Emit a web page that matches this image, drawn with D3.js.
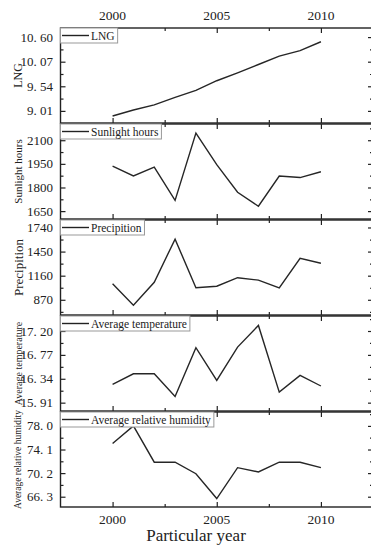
<!DOCTYPE html>
<html>
<head>
<meta charset="utf-8">
<script src="https://cdn.jsdelivr.net/npm/d3@7"></script>
<style>
  body { margin: 0; background: #fff; }
  svg text { font-family: "Liberation Serif", "DejaVu Serif", serif; fill: #222; }
</style>
</head>
<body>
<div id="chart"></div>
<script>

// data
var years = [2000, 2001, 2002, 2003, 2004, 2005, 2006, 2007, 2008, 2009, 2010];
var lng = [8.90, 9.03, 9.14, 9.30, 9.45, 9.66, 9.83, 10.01, 10.19, 10.31, 10.50];
var sunlight = [1935, 1873, 1929, 1718, 2145, 1945, 1770, 1681, 1873, 1863, 1900];
var precipition = [1062, 804, 1081, 1600, 1014, 1033, 1136, 1106, 1014, 1369, 1310];
var temperature = [16.24, 16.43, 16.43, 16.02, 16.90, 16.31, 16.91, 17.30, 16.10, 16.40, 16.21];
var humidity = [75.1, 78.0, 72.0, 72.0, 70.1, 66.0, 71.1, 70.4, 72.0, 72.0, 71.1];

var yearTicks = [2000, 2005, 2010];
var lngTicks = [9.01, 9.54, 10.07, 10.60];
var sunTicks = [1650, 1800, 1950, 2100];
var precTicks = [870, 1160, 1450, 1740];
var tempTicks = [15.91, 16.34, 16.77, 17.20];
var humTicks = [66.3, 70.2, 74.1, 78.0];

var panelNames = ["LNG", "Sunlight hours", "Precipition", "Average temperature", "Average relative humidity"];

var width = 371, height = 545;

var svg = d3.select("#chart").append("svg")
	.attr("width", width)
	.attr("height", height);

var x = d3.scaleLinear().domain([1997.5, 2012.5]).range([60.5, 373]);

// one entry per stacked panel
var panels = [
	{ name: panelNames[0], values: lng, ticks: lngTicks, dom: [8.749, 10.796], fmt: ".2f", tsize: 12 },
	{ name: panelNames[1], values: sunlight, ticks: sunTicks, dom: [1600, 2203], fmt: "d", tsize: 11 },
	{ name: panelNames[2], values: precipition, ticks: precTicks, dom: [687, 1830], fmt: "d", tsize: 13 },
	{ name: panelNames[3], values: temperature, ticks: tempTicks, dom: [15.76, 17.47], fmt: ".2f", tsize: 10 },
	{ name: panelNames[4], values: humidity, ticks: humTicks, dom: [64.6, 80.3], fmt: ".1f", tsize: 9.5 }
];

var top0 = 28, ph = 95, gap = 1;

function spaced(f) {
	var ff = d3.format(f);
	return function(d) { return ff(d).replace(".", ". "); };
}

panels.forEach(function(p, i) {
	var y0 = top0 + i * (ph + gap);
	var y = d3.scaleLinear().domain(p.dom).range([y0 + ph, y0]);
	var g = svg.append("g");

	// minor ticks half way between majors
	var step = p.ticks[1] - p.ticks[0];
	var minors = [];
	for (var k = -2; k < p.ticks.length + 2; k++) {
		var v = p.ticks[0] + (k + 0.5) * step;
		if (v > p.dom[0] && v < p.dom[1]) minors.push(v);
	}

	// left axis, ticks inward
	g.append("g")
		.attr("transform", "translate(" + x.range()[0] + ",0)")
		.call(d3.axisRight(y).tickValues(p.ticks).tickSize(5).tickFormat(""))
		.call(function(a) { a.select(".domain").remove(); });
	g.append("g")
		.attr("transform", "translate(" + x.range()[0] + ",0)")
		.call(d3.axisRight(y).tickValues(minors).tickSize(3).tickFormat(""))
		.call(function(a) { a.select(".domain").remove(); });
	// right axis
	g.append("g")
		.attr("transform", "translate(" + x.range()[1] + ",0)")
		.call(d3.axisLeft(y).tickValues(p.ticks).tickSize(5).tickFormat(""))
		.call(function(a) { a.select(".domain").remove(); });
	g.append("g")
		.attr("transform", "translate(" + x.range()[1] + ",0)")
		.call(d3.axisLeft(y).tickValues(minors).tickSize(3).tickFormat(""))
		.call(function(a) { a.select(".domain").remove(); });

	// tick labels
	g.selectAll("text.ylab").data(p.ticks).enter().append("text")
		.attr("class", "ylab")
		.attr("x", 53)
		.attr("y", function(d) { return y(d); })
		.attr("dy", "0.35em")
		.attr("text-anchor", "end")
		.style("font-size", "13px")
		.text(spaced(p.fmt));

	// bottom and top ticks
	var xMinor = [2002.5, 2007.5];
	g.append("g").attr("transform", "translate(0," + (y0 + ph) + ")")
		.call(d3.axisTop(x).tickValues(yearTicks).tickSize(5).tickFormat(""))
		.call(function(a) { a.select(".domain").remove(); });
	g.append("g").attr("transform", "translate(0," + (y0 + ph) + ")")
		.call(d3.axisTop(x).tickValues(xMinor).tickSize(3).tickFormat(""))
		.call(function(a) { a.select(".domain").remove(); });
	g.append("g").attr("transform", "translate(0," + y0 + ")")
		.call(d3.axisBottom(x).tickValues(yearTicks).tickSize(5).tickFormat(""))
		.call(function(a) { a.select(".domain").remove(); });
	g.append("g").attr("transform", "translate(0," + y0 + ")")
		.call(d3.axisBottom(x).tickValues(xMinor).tickSize(3).tickFormat(""))
		.call(function(a) { a.select(".domain").remove(); });

	g.selectAll(".tick line").attr("stroke", "#222").attr("stroke-width", 1.2);

	// frame
	g.append("rect")
		.attr("x", x.range()[0]).attr("y", y0)
		.attr("width", x.range()[1] - x.range()[0]).attr("height", ph)
		.attr("fill", "none").attr("stroke", "#222").attr("stroke-width", 1.4);

	// series line
	var line = d3.line()
		.x(function(d, j) { return x(years[j]); })
		.y(function(d) { return y(d); });
	g.append("path")
		.datum(p.values)
		.attr("d", line)
		.attr("fill", "none")
		.attr("stroke", "#262626")
		.attr("stroke-width", 1.4)
		.attr("stroke-linejoin", "miter");

	// legend box
	var lg = g.append("g");
	var lt = lg.append("text")
		.attr("x", 91).attr("y", y0 + 7.5)
		.attr("dy", "0.35em")
		.style("font-size", "11.5px")
		.text(p.name);
	var tw = lt.node().getComputedTextLength();
	lg.insert("rect", "text")
		.attr("x", x.range()[0]).attr("y", y0)
		.attr("width", 91 + tw + 3 - x.range()[0]).attr("height", 15)
		.attr("fill", "#fff").attr("stroke", "#999").attr("stroke-width", 1);
	lg.append("line")
		.attr("x1", 62).attr("x2", 89)
		.attr("y1", y0 + 7.5).attr("y2", y0 + 7.5)
		.attr("stroke", "#222").attr("stroke-width", 1.4);

	// y title
	svg.append("text")
		.attr("transform", "translate(18," + (y0 + ph / 2) + ") rotate(-90)")
		.attr("text-anchor", "middle")
		.attr("dy", "0.35em")
		.style("font-size", p.tsize + "px")
		.text(p.name);
});

// year labels, top and bottom
var bottom = top0 + 5 * ph + 4 * gap;
svg.selectAll("text.top").data(yearTicks).enter().append("text")
	.attr("x", function(d) { return x(d); })
	.attr("y", 15).attr("dy", "0.35em")
	.attr("text-anchor", "middle")
	.style("font-size", "13.5px")
	.text(function(d) { return d; });
svg.selectAll("text.bot").data(yearTicks).enter().append("text")
	.attr("x", function(d) { return x(d); })
	.attr("y", bottom + 12).attr("dy", "0.35em")
	.attr("text-anchor", "middle")
	.style("font-size", "13.5px")
	.text(function(d) { return d; });

svg.append("text")
	.attr("x", 196).attr("y", 541)
	.attr("text-anchor", "middle")
	.style("font-size", "17px")
	.text("Particular year");

</script>
</body>
</html>
